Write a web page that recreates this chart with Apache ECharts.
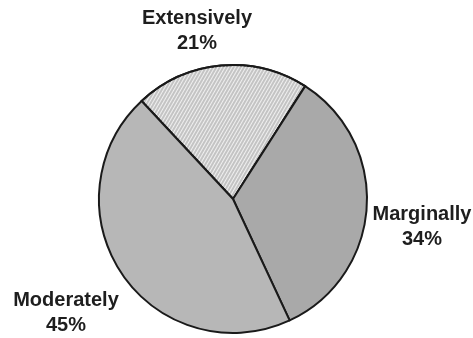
<!DOCTYPE html>
<html>
<head>
<meta charset="utf-8">
<script src="https://cdn.jsdelivr.net/npm/echarts@6/dist/echarts.min.js"></script>
<style>
html,body{margin:0;padding:0;background:#fff;}
#chart{width:473px;height:338px;}
</style>
</head>
<body>
<div id="chart"></div>
<script>
const categories = ['Extensively', 'Marginally', 'Moderately'];
const values = [21, 34, 45];

const fills = ['#c4c4c4', '#a9a9a9', '#b7b7b7'];
const labelPos = [[197, 31], [422, 227], [66, 313]];

const chart = echarts.init(document.getElementById('chart'), null, {renderer: 'canvas'});
chart.setOption({
  animation: false,
  backgroundColor: '#ffffff',
  series: [{
    type: 'pie',
    center: [233, 199],
    radius: 134,
    startAngle: 133,
    clockwise: true,
    data: categories.map((c, i) => ({
      name: c,
      value: values[i],
      itemStyle: Object.assign({color: fills[i]}, i === 0 ? {
        decal: {
          symbol: 'rect',
          color: 'rgba(255,255,255,0.75)',
          dashArrayX: [1, 0],
          dashArrayY: [1, 2],
          rotation: -Math.PI / 3
        }
      } : {})
    })),
    itemStyle: {borderColor: '#1a1a1a', borderWidth: 2},
    label: {
      show: true,
      position: 'outside',
      formatter: '{b}\n{c}%',
      fontFamily: 'Liberation Sans, Arial, sans-serif',
      fontWeight: 'bold',
      fontSize: 20,
      lineHeight: 25,
      color: '#1e1e1e',
      align: 'center',
      overflow: 'none',
      width: 200
    },
    labelLine: {show: false},
    labelLayout: function (params) {
      const p = labelPos[params.dataIndex];
      return {x: p[0], y: p[1], align: 'center', verticalAlign: 'middle'};
    },
    emphasis: {disabled: true}
  }]
});
</script>
</body>
</html>
